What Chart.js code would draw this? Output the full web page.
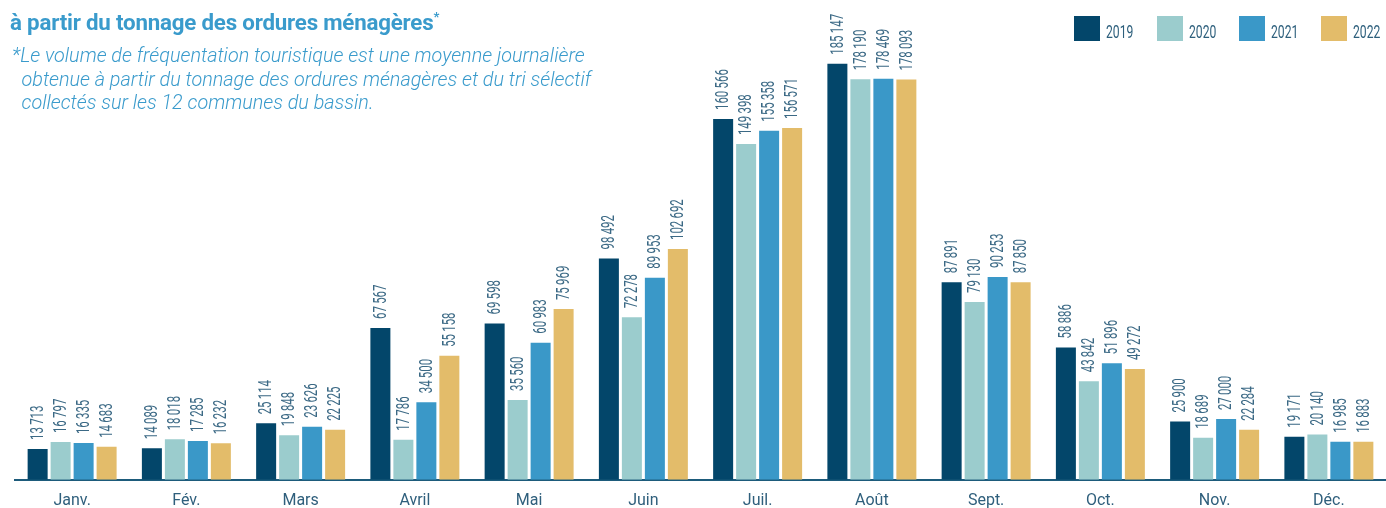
<!DOCTYPE html>
<html>
<head>
<meta charset="utf-8">
<script src="https://cdn.jsdelivr.net/npm/chart.js@4.4.1/dist/chart.umd.min.js"></script>
<style>
  html, body { margin: 0; padding: 0; background: #ffffff; }
  #wrap { position: relative; width: 1386px; height: 508px; overflow: hidden; }
  #chart { position: absolute; left: 0; top: 0; }
  .title { position: absolute; left: 10px; top: 9px; font-family: Roboto, "Open Sans", sans-serif; font-weight: 700; font-size: 22.3px; color: #3a9bcc; white-space: nowrap; letter-spacing: -0.2px; }
  .title sup { font-size: 13px; vertical-align: 9px; }
  .note { position: absolute; left: 12px; top: 44px; font-family: Roboto, "Open Sans", sans-serif; font-style: italic; font-weight: 300; font-size: 19.8px; line-height: 23.5px; color: #3a9bcc; white-space: nowrap; }
  .legend { position: absolute; top: 16px; left: 0; font-family: Roboto, sans-serif; font-size: 19px; color: #2d5f7c; }
  .legend .item { position: absolute; top: 0; white-space: nowrap; }
  .legend .box { position: absolute; top: 0; width: 26px; height: 25px; }
  .legend .lab { position: absolute; top: 5px; line-height: 22px; transform: scaleX(0.64); transform-origin: 0 0; }
</style>
</head>
<body>
<div id="wrap">
  <canvas id="chart" width="1386" height="508"></canvas>
  <div class="title">à partir du tonnage des ordures ménagères<sup>*</sup></div>
  <div class="note">*Le volume de fréquentation touristique est une moyenne journalière<br>&nbsp;&nbsp;obtenue à partir du tonnage des ordures ménagères et du tri sélectif<br>&nbsp;&nbsp;collectés sur les 12 communes du bassin.</div>
  <div class="legend" id="legend"></div>
</div>
<script>
const months = ["Janv.", "Fév.", "Mars", "Avril", "Mai", "Juin", "Juil.", "Août", "Sept.", "Oct.", "Nov.", "Déc."];
const years = ["2019", "2020", "2021", "2022"];
const v2019 = [13713, 14089, 25114, 67567, 69598, 98492, 160566, 185147, 87891, 58886, 25900, 19171];
const v2020 = [16797, 18018, 19848, 17786, 35560, 72278, 149398, 178190, 79130, 43842, 18689, 20140];
const v2021 = [16335, 17285, 23626, 34500, 60983, 89953, 155358, 178469, 90253, 51896, 27000, 16985];
const v2022 = [14683, 16232, 22225, 55158, 75969, 102692, 156571, 178093, 87850, 49272, 22284, 16883];
const colors = ["#03466a", "#9bcccd", "#3a98c8", "#e3bc6a"];

const series = [v2019, v2020, v2021, v2022];

// HTML legend
const legendPos = [1074, 1157, 1239, 1321];
const legend = document.getElementById('legend');
years.forEach((y, i) => {
  const it = document.createElement('div');
  it.className = 'item';
  it.style.left = legendPos[i] + 'px';
  it.innerHTML = '<div class="box" style="background:' + colors[i] + '"></div><div class="lab" style="left:32px">' + y + '</div>';
  legend.appendChild(it);
});

function fmt(v) {
  const s = String(v);
  return s.length > 3 ? s.slice(0, s.length - 3) + '\u2009' + s.slice(-3) : s;
}

const valueLabels = {
  id: 'valueLabels',
  afterDatasetsDraw(chart) {
    const ctx = chart.ctx;
    ctx.save();
    ctx.fillStyle = '#3b6985';
    ctx.font = '400 19px Roboto, sans-serif';
    ctx.textAlign = 'left';
    ctx.textBaseline = 'middle';
    chart.data.datasets.forEach((ds, di) => {
      const meta = chart.getDatasetMeta(di);
      meta.data.forEach((el, i) => {
        ctx.save();
        ctx.translate(el.x, el.y - 9);
        ctx.rotate(-Math.PI / 2);
        ctx.scale(0.6, 1);
        ctx.fillText(fmt(ds.data[i]), 0, 0.5);
        ctx.restore();
      });
    });
    ctx.restore();
  }
};

new Chart(document.getElementById('chart'), {
  type: 'bar',
  data: {
    labels: months,
    datasets: years.map((y, i) => ({
      label: y,
      data: series[i],
      backgroundColor: colors[i],
      borderWidth: 0,
      categoryPercentage: 0.805,
      barPercentage: 0.87
    }))
  },
  options: {
    responsive: false,
    animation: false,
    layout: { padding: { left: 15, right: 0, top: 0, bottom: -15 } },
    plugins: { legend: { display: false }, tooltip: { enabled: false }, title: { display: false } },
    scales: {
      y: { display: false, min: 0, max: 213500 },
      x: {
        grid: { display: false, drawTicks: false },
        border: { display: true, color: '#1d5b7b', width: 2 },
        ticks: {
          color: '#2f5f7c',
          padding: 12,
          font: { family: 'Roboto, sans-serif', size: 16 }
        }
      }
    }
  },
  plugins: [valueLabels]
});
</script>
</body>
</html>
